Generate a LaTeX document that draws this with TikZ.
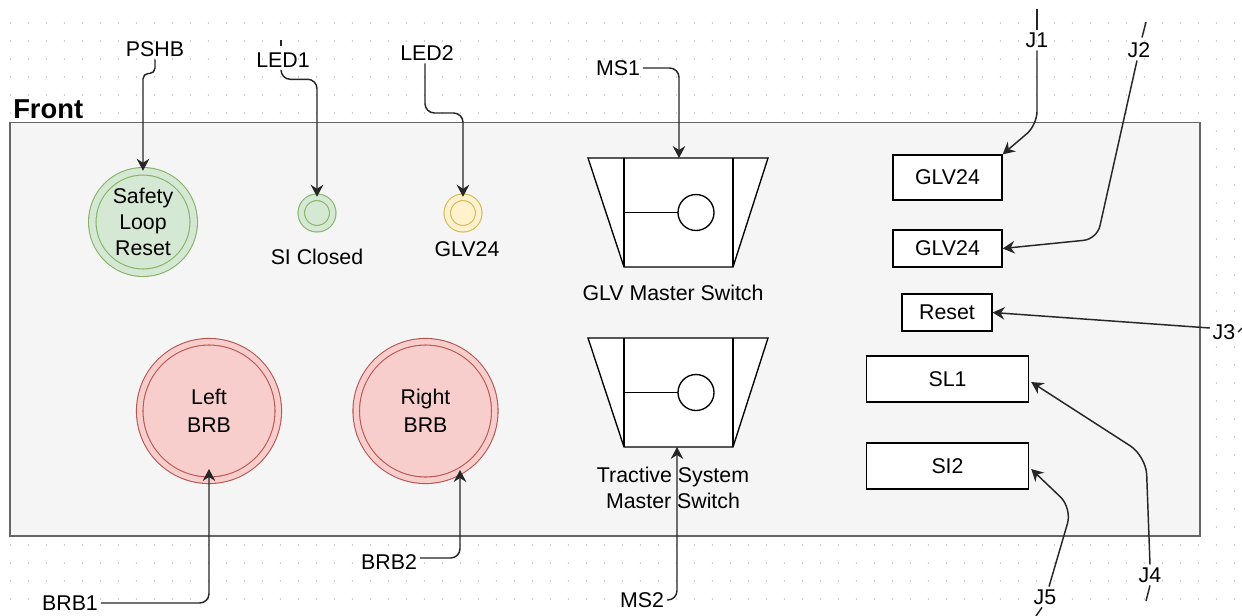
\documentclass[tikz,border=0pt]{standalone}
\usepackage{fontspec}
\setmainfont{Liberation Sans}
\usetikzlibrary{arrows.meta,calc}
\definecolor{gfill}{HTML}{D5E8D4}
\definecolor{gline}{HTML}{82B366}
\definecolor{yfill}{HTML}{FFF2CC}
\definecolor{yline}{HTML}{D6B656}
\definecolor{rfill}{HTML}{F8CECC}
\definecolor{rline}{HTML}{B85450}
\definecolor{panelfill}{HTML}{F5F5F5}
\definecolor{panelline}{HTML}{666666}
\definecolor{gridc}{HTML}{C8C8C8}
\definecolor{conc}{HTML}{262626}
\tikzset{
  lbl/.style={font=\fontsize{16}{20}\selectfont, inner sep=2pt, align=center, text=black},
  conn/.style={draw=conc, line width=1.1pt, rounded corners=7pt, -{Stealth[length=9pt,width=9.5pt,inset=3pt]}},
  stub/.style={draw=conc, line width=1.1pt},
  panel/.style={draw=panelline, fill=panelfill, line width=1.2pt, inner sep=0pt},
  dgreen/.style={circle, draw=gline, fill=gfill, double=gfill, line width=0.8pt, inner sep=0pt, align=center, font=\fontsize{16}{19.5}\selectfont},
  dyellow/.style={circle, draw=yline, fill=yfill, double=yfill, line width=0.8pt, inner sep=0pt},
  dred/.style={circle, draw=rline, fill=rfill, double=rfill, line width=0.8pt, inner sep=0pt, align=center, font=\fontsize{16}{21}\selectfont},
  jbox/.style={draw=black, fill=white, line width=1pt, inner sep=0pt, font=\fontsize{16}{20}\selectfont},
  swline/.style={draw=black, line width=1pt},
  mswitch/.pic={
    \draw[swline, fill=white] (-90,-54.5) -- (90,-54.5) -- (55,54.5) -- (-54,54.5) -- cycle;
    \draw[swline] (-54,-54.5) -- (-54,54.5);
    \draw[swline] (55,-54.5) -- (55,54.5);
    \draw[swline] (-54,0) -- (0,0);
    \draw[swline, fill=white] (18,0) circle[radius=18];
    \coordinate (-top) at (1,-54.5);
    \coordinate (-bot) at (-1,54.5);
  }
}
\begin{document}
\begin{tikzpicture}[x=0.75pt,y=-0.75pt]
\useasboundingbox (0,0) rectangle (1242,615);
\fill[white] (0,0) rectangle (1242,615);
% dotted grid
\foreach \i in {0,...,68}{
  \foreach \j in {0,...,32}{
    \fill[gridc] (10.5+18*\i, 23+18*\j) circle (0.6pt);
  }
}
% panel
\node[panel, minimum width=892.5pt, minimum height=310.1pt] (front) at (605,329.25) {};
\node[font=\bfseries\fontsize{20.5}{24}\selectfont, anchor=base west, inner sep=0pt] (frontlbl) at (13,118) {Front};

% circles
\node[dgreen, minimum size=76.1pt, double distance=4.8pt] (slr) at (143,222) {Safety\\Loop\\Reset};
\node[dgreen, minimum size=23.6pt, double distance=4.1pt] (led1) at (317,213) {};
\node[dyellow, minimum size=23.6pt, double distance=4.1pt] (led2) at (463,213) {};
\node[lbl] (led1txt) at (317,257) {SI Closed};
\node[lbl] (led2txt) at (467,249) {GLV24};
\node[dred, minimum size=103.9pt, double distance=4.1pt] (lbrb) at (209,411) {Left\\BRB};
\node[dred, minimum size=103.9pt, double distance=4.1pt] (rbrb) at (425.5,411) {Right\\BRB};

% switches
\pic (sw1) at (678,212.5) {mswitch};
\pic (sw2) at (678,392.5) {mswitch};
\node[lbl] (sw1txt) at (673,293) {GLV Master Switch};
\node[lbl] (sw2txt) at (673,488) {Tractive System\\Master Switch};

% boxes
\node[jbox, minimum width=81.75pt, minimum height=33.75pt] (b1) at (947.5,177.5) {GLV24};
\node[jbox, minimum width=81.75pt, minimum height=27.75pt] (b2) at (947.5,248.5) {GLV24};
\node[jbox, minimum width=67.5pt, minimum height=27.75pt] (reset) at (947,312.5) {Reset};
\node[jbox, minimum width=121.5pt, minimum height=34.5pt] (sl1) at (947.5,379) {SL1};
\node[jbox, minimum width=121.5pt, minimum height=34.5pt] (si2) at (947.5,466) {SI2};

% labels
\node[lbl] (pshb) at (155,49) {PSHB};
\node[lbl] (led1lbl) at (283,60) {LED1};
\node[lbl] (led2lbl) at (427,53) {LED2};
\node[lbl] (ms1) at (618,68) {MS1};
\node[lbl] (ms2) at (642,600) {MS2};
\node[lbl] (brb1) at (70,603) {BRB1};
\node[lbl] (brb2) at (389,562) {BRB2};
\node[lbl] (j1) at (1037,40) {J1};
\node[lbl] (j2) at (1139,50) {J2};
\node[lbl] (j3) at (1224,332) {J3};
\node[lbl] (j4) at (1150,575) {J4};
\node[lbl] (j5) at (1045,597) {J5};

% free ends
\coordinate (led1end) at (281,40);
\coordinate (j1end) at (1037,9);
\coordinate (j2end) at (1146,22);
\coordinate (j3end) at (1242,328);
\coordinate (j4end) at (1146,601);
\coordinate (j5end) at (1036,616);

% connectors
\draw[conn, rounded corners=4pt] (pshb.south) -- ++(0,14) -| (slr.north);
\draw[stub, line width=0.8pt] ($(led1lbl.north)+(-2,-4)$) -- (led1end);
\draw[conn] ($(led1lbl.south)+(-2,0)$) -- ++(0,9) -| (led1.north);
\draw[conn] ($(led2lbl.south)+(-2,0)$) |- (445,113) -| (led2.north);
\draw[conn] (ms1.east) -| (sw1-top);
\draw[conn] (ms2.east) -| (sw2-bot);
\draw[conn] (brb1.east) -| ($(lbrb.center)+(0,58)$);
\draw[conn] ($(brb2.east)+(0,-4)$) -| ($(rbrb.center)+(34.5,59)$);

\draw[stub] (j1.north) -- (j1end);
\draw[conn, rounded corners=10pt] (j1.south) -- (1037,125) -- (b1.north east);
\draw[stub] ($(j2.north)+(3,-2)$) -- (j2end);
\draw[conn, rounded corners=10pt] ($(j2.south)+(-2,0)$) -- (1097,239) -- (b2.east);
\draw[stub] (j3.east) -- (j3end);
\draw[conn] ($(j3.west)+(0,-4)$) -- (reset.east);
\draw[stub] (j4.south) -- (j4end);
\draw[conn, rounded corners=14pt] (j4.north) -- (1146,456) -- ($(sl1.east)+(2,3)$);
\draw[stub] ($(j5.south)+(-3,0)$) -- (j5end);
\draw[conn, rounded corners=12pt] ($(j5.north)+(4,0)$) -- (1072,508) -- ($(si2.east)+(2,3)$);
\end{tikzpicture}
\end{document}
